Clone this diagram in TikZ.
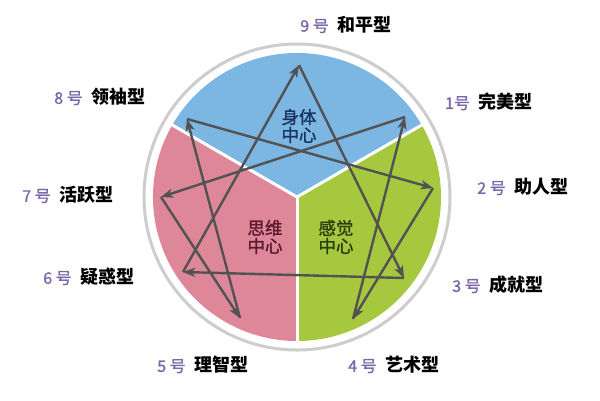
\documentclass[tikz,border=0pt]{standalone}
\usepackage{fontspec}
\setmainfont{Noto Sans CJK SC}
\newfontfamily\medfont{Noto Sans CJK SC}[FakeBold=1.3]
\usetikzlibrary{arrows.meta}
\definecolor{bodyblue}{RGB}{124,182,226}
\definecolor{headpink}{RGB}{221,135,153}
\definecolor{heartgreen}{RGB}{166,200,62}
\definecolor{bodytext}{RGB}{26,52,96}
\definecolor{headtext}{RGB}{92,24,44}
\definecolor{hearttext}{RGB}{40,62,14}
\definecolor{arrowgray}{RGB}{82,82,82}
\definecolor{numpurple}{RGB}{122,104,168}
\definecolor{ringgray}{RGB}{205,205,205}
\newcommand{\haonum}[1]{{\color{numpurple}\medfont\mdseries\fontsize{16}{18}\selectfont #1}}
\tikzset{
  arr/.style={draw=arrowgray, line width=2.4pt, -{Stealth[length=12pt,width=9pt,inset=3pt]}},
  typelabel/.style={font=\bfseries\fontsize{18}{20}\selectfont, inner sep=0pt},
  centerlabel/.style={font=\medfont\fontsize{17.5}{18}\selectfont, align=center, inner sep=0pt}
}
\begin{document}
\begin{tikzpicture}[x=1pt,y=-1pt]
\useasboundingbox (0,0) rectangle (600,400);
\fill[white] (0,0) rectangle (600,400);
\coordinate (c) at (297,197);
\draw[ringgray, line width=3pt] (c) circle (153);
\fill[bodyblue] (c) -- ++(-30:144) arc[start angle=-30, end angle=-150, radius=144] -- cycle;
\fill[headpink] (c) -- ++(-150:144) arc[start angle=-150, end angle=-270, radius=144] -- cycle;
\fill[heartgreen] (c) -- ++(90:144) arc[start angle=90, end angle=-30, radius=144] -- cycle;
\foreach \a in {-30,-150,90}
  \draw[white, line width=3pt] (c) -- ++(\a:146);
\node[centerlabel, text=bodytext] (body) at (299,126) {身体\\中心};
\node[centerlabel, text=headtext] (head) at (265,237) {思维\\中心};
\node[centerlabel, text=hearttext] (heart) at (336,237) {感觉\\中心};
\foreach \n/\x/\y in {9/299/65,1/405/117,2/433/188,3/404/278,4/353/319,5/240/318,6/183/272,7/161/197,8/187/119}
  \coordinate (p\n) at (\x,\y);
\foreach \a/\b in {9/3,3/6,6/9,1/7,7/5,5/8,8/2,2/4,4/1}
  \draw[arr] (p\a) -- (p\b);
\foreach \n/\x/\y/\h/\t in {9/346/25/9 号/和平型,8/100/97/8 号/领袖型,1/489/102/1号/完美型,7/68/195/7 号/活跃型,2/523/187/2 号/助人型,6/89/277/6 号/疑惑型,3/498/285/3 号/成就型,5/203/365/5 号/理智型,4/394/365/4 号/艺术型}
  \node[typelabel] (t\n) at (\x,\y) {\haonum{\h}\hspace{9pt}\t};
\end{tikzpicture}
\end{document}
